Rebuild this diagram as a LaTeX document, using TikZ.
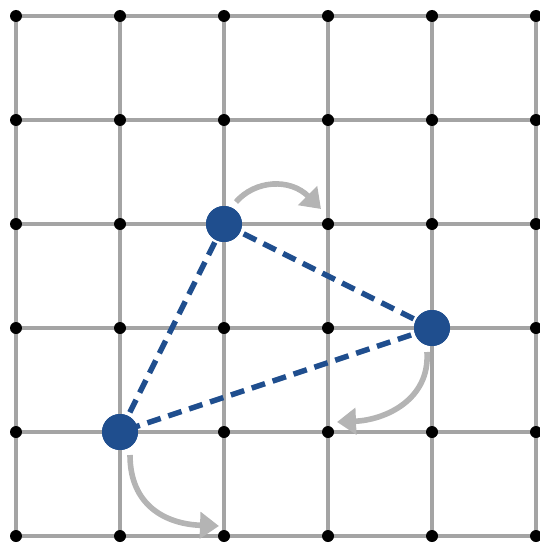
\documentclass[tikz,border=0pt]{standalone}
\usetikzlibrary{arrows.meta}
\definecolor{gridgray}{HTML}{A4A4A4}
\definecolor{arrowgray}{HTML}{B4B4B4}
\definecolor{nodeblue}{HTML}{1F4E8E}
\tikzset{
  gridline/.style={draw=gridgray,line width=3.2pt},
  griddot/.style={circle,fill=black,inner sep=0pt,minimum size=12pt},
  bluenode/.style={circle,fill=nodeblue,inner sep=0pt,minimum size=36pt},
  edgedash/.style={draw=nodeblue,line width=5.4pt,dash pattern=on 14pt off 8pt},
  movearrow/.style={draw=arrowgray,line width=5.6pt,-{Triangle[length=19pt,width=26pt]}},
}
\begin{document}
\begin{tikzpicture}[x=1pt,y=1pt]
\useasboundingbox (0,0) rectangle (540,-543);
\foreach \i in {0,...,5}{
  \draw[gridline] ({16+104*\i},-16) -- ({16+104*\i},-536);
  \draw[gridline] (16,{-16-104*\i}) -- (536,{-16-104*\i});
}
\foreach \i in {0,...,5}{
  \foreach \j in {0,...,5}{
    \node[griddot] (d\i\j) at ({16+104*\i},{-16-104*\j}) {};
  }
}
\node[bluenode] (A) at (224,-224) {};
\node[bluenode] (B) at (432,-328) {};
\node[bluenode] (C) at (120,-432) {};
\draw[edgedash] (A.center) -- (B.center);
\draw[edgedash] (B.center) -- (C.center);
\draw[edgedash] (C.center) -- (A.center);
\node[bluenode] at (A) {};
\node[bluenode] at (B) {};
\node[bluenode] at (C) {};
\coordinate (a1s) at (236,-202);
\coordinate (a1e) at (321,-209);
\coordinate (a2s) at (427,-352);
\coordinate (a2e) at (337,-422);
\coordinate (a3s) at (130,-455);
\coordinate (a3e) at (219,-526);
\draw[movearrow] (a1s) .. controls (255,-180) and (290,-178) .. (a1e);
\draw[movearrow] (a2s) .. controls (430,-400) and (385,-420) .. (a2e);
\draw[movearrow] (a3s) .. controls (130,-505) and (165,-524) .. (a3e);
\end{tikzpicture}
\end{document}
